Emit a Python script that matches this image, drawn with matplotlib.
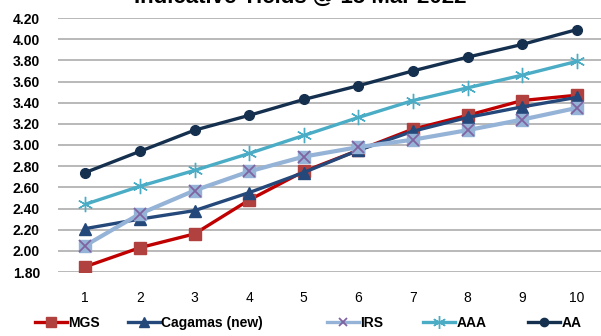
import matplotlib.pyplot as plt

tenor = [1, 2, 3, 4, 5, 6, 7, 8, 9, 10]
mgs = [1.85, 2.03, 2.16, 2.48, 2.75, 2.95, 3.15, 3.28, 3.42, 3.47]
cagamas = [2.21, 2.30, 2.38, 2.55, 2.74, 2.95, 3.13, 3.26, 3.36, 3.45]
irs = [2.05, 2.35, 2.57, 2.75, 2.89, 2.98, 3.05, 3.14, 3.24, 3.35]
aaa = [2.44, 2.61, 2.76, 2.92, 3.09, 3.26, 3.42, 3.54, 3.66, 3.79]
aa = [2.74, 2.94, 3.14, 3.28, 3.43, 3.56, 3.70, 3.83, 3.95, 4.09]
yticks = [1.80, 2.00, 2.20, 2.40, 2.60, 2.80, 3.00, 3.20, 3.40, 3.60, 3.80, 4.00, 4.20]

plt.rcParams['font.family'] = 'Liberation Sans'

fig = plt.figure(figsize=(6.01, 3.36), dpi=100)
ax = fig.add_axes([58 / 601, 1 - 272 / 336, (604 - 58) / 601, (272 - 18) / 336])

lw = 2.4
l_mgs, = ax.plot(tenor, mgs, color='#C00000', lw=lw, marker='s', ms=8,
                 mfc='#B0413E', mec='#B0413E', zorder=3)
l_cag, = ax.plot(tenor, cagamas, color='#24487A', lw=lw, marker='^', ms=8,
                 mfc='#24487A', mec='#24487A', zorder=4)
ax.plot(tenor, irs, color='#95B3D7', lw=lw + 0.6, marker='s', ms=9,
        mfc='#95B3D7', mec='#95B3D7', zorder=5)
ax.plot(tenor, irs, lw=0, marker='x', ms=8, mew=1.3, mec='#8064A2', zorder=6)
l_aaa, = ax.plot(tenor, aaa, color='#4AACC5', lw=lw, marker=(6, 2, 0), ms=11,
                 mew=1.0, mec='#4AACC5', zorder=3)
l_aa, = ax.plot(tenor, aa, color='#15304F', lw=lw, marker='o', ms=7,
                mfc='#15304F', mec='#15304F', zorder=3)

# legend proxy for the layered IRS marker
l_irs, = ax.plot([], [], color='#95B3D7', lw=lw, marker='x', ms=7, mew=1.3,
                 mec='#8064A2')

ax.set_xlim(0.5, 10.5)
ax.set_ylim(1.80, 4.20)
ax.set_yticks(yticks)
ax.set_yticklabels([f'{v:.2f}' for v in yticks], fontsize=10, fontweight='bold')
ax.set_xticks(tenor)
ax.set_xticklabels([str(t) for t in tenor], fontsize=10)
ax.tick_params(length=0)
ax.tick_params(axis='y', pad=13)
ax.tick_params(axis='x', pad=14)
ax.grid(axis='y', color='#A6A6A6', lw=1.1)
ax.set_axisbelow(True)
for s in ax.spines.values():
    s.set_visible(False)

# title sits mostly above the canvas, as in the source image
fig.text(0.5, 1 + 3 / 336, 'Indicative Yields @ 15 Mar 2022', ha='center', va='center',
         fontsize=16, fontweight='bold')

# one legend per entry so each sits where the reference has it
entries = [(l_mgs, 'MGS', 35), (l_cag, 'Cagamas (new)', 128), (l_irs, 'IRS', 327),
           (l_aaa, 'AAA', 423), (l_aa, 'AA', 528)]
for h, lab, x0 in entries:
    fig.legend([h], [lab], loc='center left', bbox_to_anchor=(x0 / 601, 1 - 323 / 336),
               frameon=False, borderpad=0, borderaxespad=0,
               prop={'weight': 'bold', 'size': 10}, handlelength=2.3,
               handletextpad=0.1, markerscale=0.85)

fig.savefig('out.png', dpi=100)
